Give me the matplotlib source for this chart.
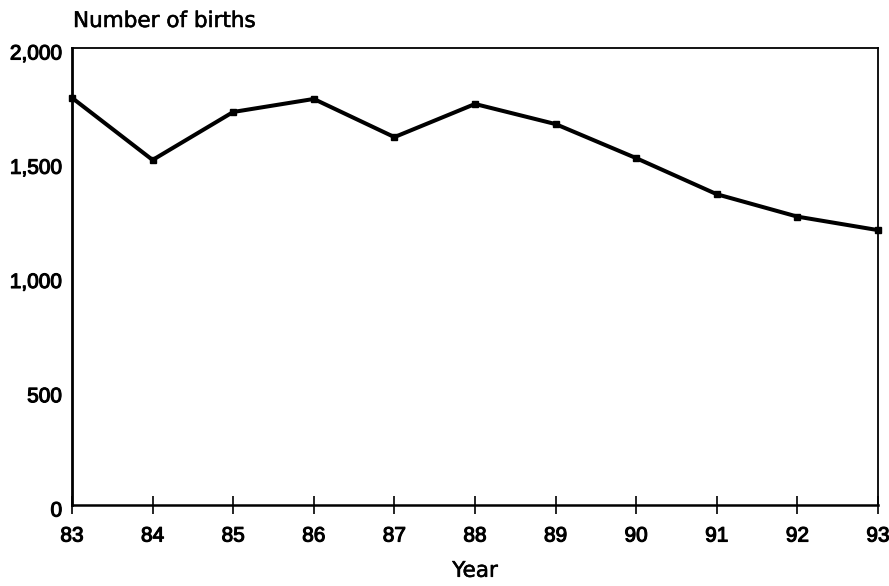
import matplotlib.pyplot as plt
import matplotlib.patheffects as pe
from matplotlib.ticker import FuncFormatter
from matplotlib.transforms import ScaledTranslation

years = [83, 84, 85, 86, 87, 88, 89, 90, 91, 92, 93]
births = [1782, 1510, 1720, 1777, 1610, 1755, 1667, 1518, 1360, 1262, 1203]
yticks = [0, 500, 1000, 1500, 2000]

plt.rcParams['font.family'] = ['Liberation Sans', 'DejaVu Sans']
heavy = [pe.withStroke(linewidth=0.8, foreground='black')]
light = [pe.withStroke(linewidth=0.4, foreground='black')]

fig = plt.figure(figsize=(8.89, 5.86), dpi=100)
ax = fig.add_axes([72 / 889, 81 / 586, 806 / 889, 457 / 586])

ax.plot(years, births, color='black', lw=2.9, marker='s', markersize=4,
        solid_joinstyle='round', clip_on=False, zorder=3)

ax.set_xlim(83, 93)
ax.set_ylim(0, 2000)
ax.set_xticks(years)
ax.set_yticks(yticks)
ax.yaxis.set_major_formatter(FuncFormatter(lambda v, p: f"{int(v):,}"))

ax.tick_params(axis='x', direction='inout', length=13, width=1.2,
               labelsize=15, pad=9)
ax.tick_params(axis='y', length=0, labelsize=15, pad=7)
shift = ScaledTranslation(0, -4 / 100, fig.dpi_scale_trans)
for lab in ax.get_yticklabels():
    lab.set_transform(lab.get_transform() + shift)
for lab in ax.get_xticklabels() + ax.get_yticklabels():
    lab.set_path_effects(heavy)

for side, s in ax.spines.items():
    s.set_linewidth(1.3)
ax.spines['left'].set_linewidth(2)
ax.spines['bottom'].set_linewidth(1.8)

ax.set_xlabel('Year', fontsize=15.5, family='DejaVu Sans', labelpad=11,
              path_effects=light)
fig.text(73 / 889, 1 - 27 / 586, 'Number of births', fontsize=15.5,
         family='DejaVu Sans', ha='left', va='baseline', path_effects=light)

fig.savefig('out.png', dpi=100)
